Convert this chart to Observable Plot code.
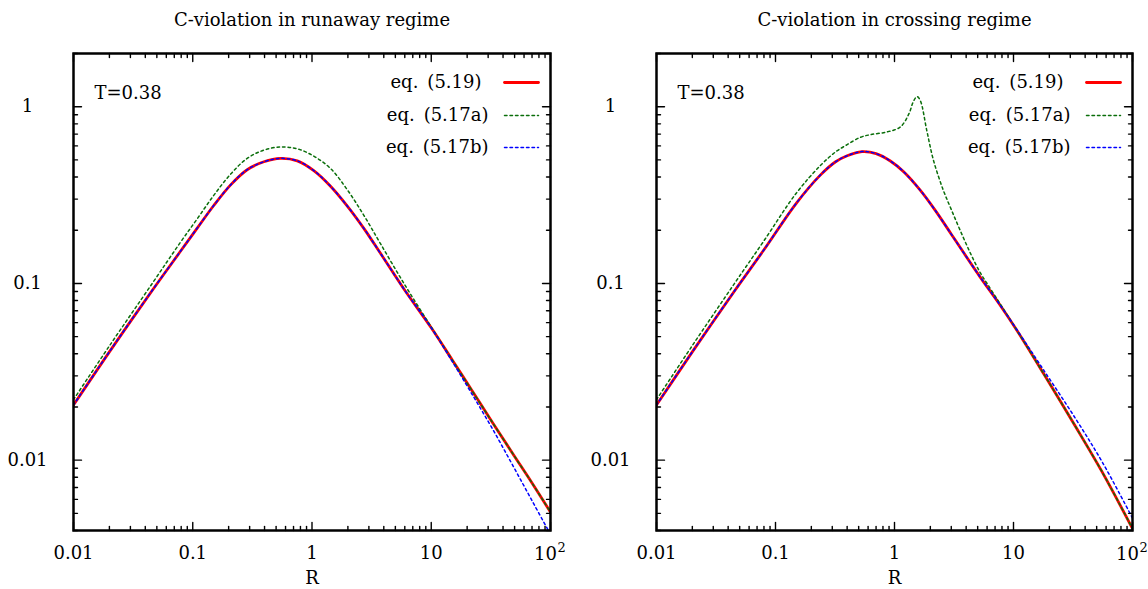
<!DOCTYPE html>
<html><head><meta charset="utf-8">
<script src="https://cdn.jsdelivr.net/npm/d3@7"></script>
<script src="https://cdn.jsdelivr.net/npm/@observablehq/plot@0.6"></script>
<style>
html,body{margin:0;padding:0;background:#fff;}
#chart{display:flex;width:1148px;height:589px;background:#fff;}
#chart svg{display:block;overflow:visible;}
</style></head><body><div id="chart"></div>
<script>
// ---- tick values and labels ----
const xMajor = [0.01, 0.1, 1, 10, 100];
const xMajorLabels = ["0.01", "0.1", "1", "10", "10"];
const xExpLabel = "2"; // superscript of the last x label (10^2)
const xMinor = [0.02,0.03,0.04,0.05,0.06,0.07,0.08,0.09, 0.2,0.3,0.4,0.5,0.6,0.7,0.8,0.9, 2,3,4,5,6,7,8,9, 20,30,40,50,60,70,80,90];
const yMajor = [0.01, 0.1, 1];
const yMajorLabels = ["0.01", "0.1", "1"];
const yMinor = [0.004,0.005,0.006,0.007,0.008,0.009, 0.02,0.03,0.04,0.05,0.06,0.07,0.08,0.09, 0.2,0.3,0.4,0.5,0.6,0.7,0.8,0.9, 2];

const titles = ["C-violation in runaway regime", "C-violation in crossing regime"];
const seriesNames = ["eq.\u2002(5.19)", "eq.\u2002(5.17a)", "eq.\u2002(5.17b)"];
const tempLabel = "T=0.38";
const xLabel = "R";

// ---- left panel (runaway regime) ----
const leftR = [0.01, 0.02, 0.0457, 0.0789, 0.109, 0.15, 0.207, 0.286, 0.395, 0.545, 0.752, 1.035, 1.43, 1.97, 2.72, 3.75, 5.9, 10, 15, 22, 32.7, 48, 70, 100];
const leftEq519 = [0.0205, 0.041, 0.0912, 0.152, 0.2055, 0.276, 0.36, 0.44, 0.488, 0.51, 0.494, 0.435, 0.355, 0.275, 0.205, 0.148, 0.093, 0.0561, 0.0369, 0.0247, 0.0163, 0.01095, 0.00743, 0.00508];
const leftEq517a = [0.022, 0.0443, 0.0999, 0.171, 0.232, 0.315, 0.414, 0.51, 0.568, 0.592, 0.578, 0.525, 0.447, 0.34, 0.243, 0.168, 0.1, 0.0567, 0.0369, 0.0247, 0.0163, 0.01095, 0.00743, 0.00508];
const leftEq517b = [0.0205, 0.041, 0.0912, 0.152, 0.2055, 0.276, 0.36, 0.44, 0.488, 0.51, 0.494, 0.435, 0.355, 0.275, 0.205, 0.148, 0.093, 0.0561, 0.0362, 0.0236, 0.0150, 0.0094, 0.0059, 0.0038];

// ---- right panel (crossing regime) ----
const rightR = [0.01, 0.02, 0.0457, 0.0789, 0.15, 0.238, 0.32, 0.4, 0.533, 0.7, 0.923, 1.2, 1.65, 2.2, 3.0, 3.6, 5.25, 7.5, 10.5, 18, 33.2, 56, 100];
const rightEq519 = [0.0205, 0.041, 0.0915, 0.153, 0.285, 0.41, 0.488, 0.528, 0.557, 0.543, 0.493, 0.427, 0.336, 0.259, 0.19, 0.158, 0.1086, 0.0775, 0.0552, 0.0307, 0.0155, 0.0085, 0.0041];
const rightEq517b = [0.0205, 0.041, 0.0915, 0.153, 0.285, 0.41, 0.488, 0.528, 0.557, 0.543, 0.493, 0.427, 0.336, 0.259, 0.19, 0.158, 0.1086, 0.0775, 0.0556, 0.0322, 0.0172, 0.0097, 0.0047];
const rightR517a = [0.01, 0.02, 0.0457, 0.0789, 0.15, 0.238, 0.32, 0.4, 0.516, 0.63, 0.865, 1.12, 1.32, 1.45, 1.55, 1.65, 1.87, 2.13, 2.58, 3.0, 3.56, 4.35, 5.25, 6.05, 7.5, 9.5, 18, 33.2, 56, 100];
const rightEq517a = [0.022, 0.0445, 0.101, 0.172, 0.325, 0.464, 0.555, 0.61, 0.671, 0.695, 0.72, 0.768, 0.91, 1.08, 1.14, 1.08, 0.73, 0.495, 0.335, 0.262, 0.2, 0.148, 0.115, 0.099, 0.079, 0.0615, 0.0307, 0.0155, 0.0085, 0.0041];

const zip = (R, V) => R.map((r, i) => ({R: r, V: V[i]}));

const FONT = "DejaVu Serif";
const FS = 18;
const lineShape = {draw(ctx, l) { ctx.moveTo(0, 0); ctx.lineTo(0, -l); }};

function tickMarks() {
  const common = {anchor: "start", shape: lineShape, stroke: "black", strokeWidth: 1.4};
  const m = [];
  for (const [vals, len] of [[xMajor, 8], [xMinor, 4]]) {
    m.push(Plot.vector(vals, {...common, x: d => d, frameAnchor: "bottom", rotate: 0, length: len}));
    m.push(Plot.vector(vals, {...common, x: d => d, frameAnchor: "top", rotate: 180, length: len}));
  }
  for (const [vals, len] of [[yMajor, 8], [yMinor, 4]]) {
    m.push(Plot.vector(vals, {...common, y: d => d, frameAnchor: "left", rotate: 90, length: len}));
    m.push(Plot.vector(vals, {...common, y: d => d, frameAnchor: "right", rotate: 270, length: len}));
  }
  return m;
}

function panel({title, mL, mR, red, green, blue}) {
  const styles = [
    {stroke: "#ff0000", strokeWidth: 2.8, dash: null},
    {stroke: "#0a6e0a", strokeWidth: 1.5, dash: "2.5,3"},
    {stroke: "#0000ff", strokeWidth: 1.5, dash: "2.5,3"}
  ];
  const rowDy = [29, 62, 94];
  const rowDx = [-69, -62, -62];
  const legend = [];
  seriesNames.forEach((name, i) => {
    legend.push(Plot.text([name], {text: d => d, frameAnchor: "top-right", dx: rowDx[i], dy: rowDy[i],
      textAnchor: "end", lineAnchor: "middle", fontFamily: FONT, fontSize: FS, fill: "black"}));
    legend.push(Plot.vector([0], {frameAnchor: "top-right", dx: -46, dy: rowDy[i], rotate: 90, length: 34,
      anchor: "start", shape: lineShape, stroke: styles[i].stroke, strokeWidth: styles[i].strokeWidth,
      strokeDasharray: styles[i].dash}));
  });
  const lastX = xMajor[xMajor.length - 1];
  return Plot.plot({
    width: 574, height: 589,
    marginLeft: mL, marginRight: mR, marginTop: 53, marginBottom: 59,
    x: {type: "log", domain: [0.01, 100], axis: null},
    y: {type: "log", domain: [0.004, 2], axis: null},
    style: {background: "white", fontFamily: FONT, overflow: "visible"},
    marks: [
      Plot.line(red, {x: "R", y: "V", stroke: styles[0].stroke, strokeWidth: styles[0].strokeWidth, curve: "catmull-rom", clip: true}),
      Plot.line(green, {x: "R", y: "V", stroke: styles[1].stroke, strokeWidth: styles[1].strokeWidth, strokeDasharray: styles[1].dash, curve: "catmull-rom", clip: true}),
      Plot.line(blue, {x: "R", y: "V", stroke: styles[2].stroke, strokeWidth: styles[2].strokeWidth, strokeDasharray: styles[2].dash, curve: "catmull-rom", clip: true}),
      ...tickMarks(),
      Plot.frame({stroke: "black", strokeWidth: 2.5}),
      Plot.text(xMajor.slice(0, -1), {x: d => d, text: (d, i) => xMajorLabels[i], frameAnchor: "bottom", dy: 23, lineAnchor: "middle", fontFamily: FONT, fontSize: FS, fill: "black"}),
      Plot.text([lastX], {x: d => d, text: () => xMajorLabels[xMajorLabels.length - 1], frameAnchor: "bottom", dx: -5, dy: 24, lineAnchor: "middle", fontFamily: FONT, fontSize: FS, fill: "black"}),
      Plot.text([lastX], {x: d => d, text: () => xExpLabel, frameAnchor: "bottom", dx: 7, dy: 17, textAnchor: "start", lineAnchor: "middle", fontFamily: FONT, fontSize: 13, fill: "black"}),
      Plot.text(yMajor, {y: d => d, text: (d, i) => yMajorLabels[i], frameAnchor: "left", dx: -46, textAnchor: "middle", lineAnchor: "middle", fontFamily: FONT, fontSize: FS, fill: "black"}),
      Plot.text([xLabel], {text: d => d, frameAnchor: "bottom", dy: 48, lineAnchor: "middle", fontFamily: FONT, fontSize: FS, fill: "black"}),
      Plot.text([title], {text: d => d, frameAnchor: "top", dy: -33, lineAnchor: "middle", fontFamily: FONT, fontSize: FS, fill: "black"}),
      Plot.text([tempLabel], {text: d => d, frameAnchor: "top-left", dx: 21, dy: 40, textAnchor: "start", lineAnchor: "middle", fontFamily: FONT, fontSize: FS, fill: "black"}),
      ...legend
    ]
  });
}

const chart = document.getElementById("chart");
chart.append(panel({title: titles[0], mL: 73, mR: 24, red: zip(leftR, leftEq519), green: zip(leftR, leftEq517a), blue: zip(leftR, leftEq517b)}));
chart.append(panel({title: titles[1], mL: 82, mR: 16, red: zip(rightR, rightEq519), green: zip(rightR517a, rightEq517a), blue: zip(rightR, rightEq517b)}));
</script></body></html>
